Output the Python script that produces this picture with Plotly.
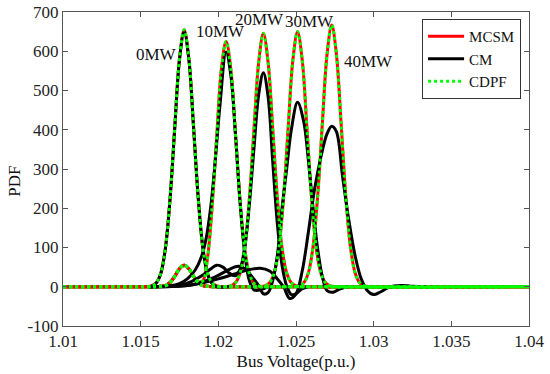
import plotly.graph_objects as go

# ---------------- data ----------------
x_tick_vals = [1.01, 1.015, 1.02, 1.025, 1.03, 1.035, 1.04]
x_tick_text = ["1.01", "1.015", "1.02", "1.025", "1.03", "1.035", "1.04"]
y_tick_vals = [-100, 0, 100, 200, 300, 400, 500, 600, 700]
y_tick_text = ["-100", "0", "100", "200", "300", "400", "500", "600", "700"]

cases = ["0MW", "10MW", "20MW", "30MW", "40MW"]

# MCSM (Monte Carlo) PDFs
mcsm_0_x = [1.0100, 1.0150, 1.0154, 1.0157, 1.0160, 1.0163, 1.0166, 1.0169, 1.0172, 1.0175, 1.0178,
            1.0181, 1.0184, 1.0187, 1.0190, 1.0193, 1.0196, 1.0199, 1.0202, 1.0206, 1.0400]
mcsm_0_y = [0, 0, 0.3, 2, 10, 35, 101, 229, 410, 582, 655,
            582, 410, 229, 101, 35, 10, 2, 0.3, 0, 0]

mcsm_10_x = [1.0100, 1.0155, 1.0160, 1.0163, 1.0166, 1.0169, 1.0172, 1.0175, 1.0178, 1.0181, 1.0184,
             1.0187, 1.0190, 1.0193, 1.0196, 1.0199, 1.0202, 1.0205, 1.0208, 1.0211, 1.0214,
             1.0217, 1.0220, 1.0223, 1.0226, 1.0229, 1.0233, 1.0400]
mcsm_10_y = [0, 0, 0.2, 1, 3, 11, 27, 46, 55, 46, 27,
             13, 15, 72, 205, 385, 556, 625, 556, 391, 218,
             96, 33, 9, 2, 0.3, 0, 0]

mcsm_20_x = [1.0100, 1.0155, 1.0160, 1.0163, 1.0166, 1.0169, 1.0172, 1.0175, 1.0178, 1.0181, 1.0184,
             1.0187, 1.0190, 1.0193, 1.0196, 1.0200, 1.0205, 1.0208, 1.0211, 1.0214, 1.0217,
             1.0220, 1.0223, 1.0226, 1.0229, 1.0232, 1.0235, 1.0238, 1.0241, 1.0244, 1.0247,
             1.0250, 1.0254, 1.0400]
mcsm_20_y = [0, 0, 0.2, 1, 3, 11, 27, 46, 55, 46, 27,
             11, 3, 1, 0.2, 0, 0.3, 2, 10, 35, 99,
             225, 404, 573, 645, 573, 404, 225, 99, 35, 10,
             2, 0.3, 0]

mcsm_30_x = [1.0100, 1.0155, 1.0160, 1.0163, 1.0166, 1.0169, 1.0172, 1.0175, 1.0178, 1.0181, 1.0184,
             1.0187, 1.0190, 1.0193, 1.0196, 1.0200, 1.0226, 1.0230, 1.0233, 1.0236, 1.0239,
             1.0242, 1.0245, 1.0248, 1.0251, 1.0254, 1.0257, 1.0260, 1.0263, 1.0266, 1.0269,
             1.0272, 1.0276, 1.0400]
mcsm_30_y = [0, 0, 0.2, 1, 3, 11, 27, 46, 55, 46, 27,
             11, 3, 1, 0.2, 0, 0.3, 2, 10, 35, 100,
             227, 407, 578, 650, 578, 407, 227, 100, 35, 10,
             2, 0.3, 0]

mcsm_40_x = [1.0100, 1.0155, 1.0160, 1.0163, 1.0166, 1.0169, 1.0172, 1.0175, 1.0178, 1.0181, 1.0184,
             1.0187, 1.0190, 1.0193, 1.0196, 1.0200, 1.0248, 1.0252, 1.0255, 1.0258, 1.0261,
             1.0264, 1.0267, 1.0270, 1.0273, 1.0276, 1.0279, 1.0282, 1.0285, 1.0288, 1.0291,
             1.0294, 1.0298, 1.0400]
mcsm_40_y = [0, 0, 0.2, 1, 3, 11, 27, 46, 55, 46, 27,
             11, 3, 1, 0.2, 0, 0.3, 2, 10, 36, 103,
             233, 418, 593, 667, 593, 418, 233, 103, 36, 10,
             2, 0.3, 0]

# CDPF PDFs coincide with MCSM in the picture
cdpf_0_x, cdpf_0_y = mcsm_0_x, mcsm_0_y
cdpf_10_x, cdpf_10_y = mcsm_10_x, mcsm_10_y
cdpf_20_x, cdpf_20_y = mcsm_20_x, mcsm_20_y
cdpf_30_x, cdpf_30_y = mcsm_30_x, mcsm_30_y
cdpf_40_x, cdpf_40_y = mcsm_40_x, mcsm_40_y

# CM (cumulant method) PDFs
cm_0_x = [1.0155, 1.0157, 1.0160, 1.0163, 1.0166, 1.0169, 1.0172, 1.0175, 1.0178, 1.0181, 1.0184,
          1.0187, 1.0190, 1.0193, 1.0196, 1.0199, 1.0203, 1.0208]
cm_0_y = [0, 1.5, 9, 34, 100, 228, 408, 578, 650, 580, 410,
          230, 100, 33, 8, 0, -1, 0]

cm_10_x = [1.0155, 1.0162, 1.0168, 1.0175, 1.0180, 1.0185, 1.0189, 1.0192, 1.0195, 1.0198, 1.0201,
           1.0205, 1.0208, 1.0211, 1.0214, 1.0217, 1.0220, 1.0223, 1.0227, 1.0232]
cm_10_y = [0, 0.5, 2, 8, 20, 42, 75, 120, 200, 320, 460,
           598, 540, 390, 215, 85, 15, -8, -8, 0]

cm_20_x = [1.0155, 1.0165, 1.0175, 1.0183, 1.0190, 1.0195, 1.0199, 1.0203, 1.0207, 1.0211, 1.0214,
           1.0217, 1.0220, 1.0223, 1.0226, 1.0229, 1.0232, 1.0235, 1.0238, 1.0241, 1.0244,
           1.0247, 1.0250, 1.0254, 1.0258]
cm_20_y = [0, 0.5, 4, 14, 30, 45, 55, 50, 35, 28, 45,
           100, 210, 355, 490, 545, 485, 320, 160, 55, 2,
           -20, -18, -5, 0]

cm_30_x = [1.0155, 1.0170, 1.0180, 1.0190, 1.0198, 1.0205, 1.0213, 1.0218, 1.0222, 1.0226, 1.0229,
           1.0232, 1.0235, 1.0238, 1.0241, 1.0244, 1.0247, 1.0251, 1.0255, 1.0258, 1.0261,
           1.0264, 1.0267, 1.0270, 1.0274, 1.0278, 1.0283]
cm_30_y = [0, 0.5, 3, 12, 25, 40, 52, 43, 24, 3, -18,
           -15, 15, 80, 200, 300, 400, 470, 420, 320, 200,
           95, 25, -10, -14, -6, 0]

cm_40_x = [1.0155, 1.0170, 1.0180, 1.0190, 1.0200, 1.0210, 1.0218, 1.0227, 1.0233, 1.0238, 1.0242,
           1.0246, 1.0250, 1.0254, 1.0258, 1.0262, 1.0266, 1.0270, 1.0273, 1.0276, 1.0280,
           1.0284, 1.0288, 1.0292, 1.0296, 1.0300, 1.0304, 1.0309, 1.0313, 1.0318, 1.0323,
           1.0330, 1.0335]
cm_40_y = [0, 0.5, 3, 10, 20, 32, 42, 47, 40, 20, 0,
           -30, -18, 40, 140, 250, 330, 390, 409, 395, 280,
           170, 80, 20, -10, -20, -14, -3, 2, 3, 2,
           0, 0]

label_x = [1.01605, 1.02011, 1.02268, 1.0259, 1.02964]
label_y = [591, 650, 680, 675, 573]

# ---------------- figure ----------------
FONT = "Liberation Serif, DejaVu Serif, serif"
RED, BLACK, GREEN = "#ff0000", "#000000", "#00ff00"

mcsm = [(mcsm_0_x, mcsm_0_y), (mcsm_10_x, mcsm_10_y), (mcsm_20_x, mcsm_20_y),
        (mcsm_30_x, mcsm_30_y), (mcsm_40_x, mcsm_40_y)]
cm = [(cm_0_x, cm_0_y), (cm_10_x, cm_10_y), (cm_20_x, cm_20_y),
      (cm_30_x, cm_30_y), (cm_40_x, cm_40_y)]
cdpf = [(cdpf_0_x, cdpf_0_y), (cdpf_10_x, cdpf_10_y), (cdpf_20_x, cdpf_20_y),
        (cdpf_30_x, cdpf_30_y), (cdpf_40_x, cdpf_40_y)]

fig = go.Figure()
for name, group, color, dash in [("MCSM", mcsm, RED, "solid"),
                                 ("CM", cm, BLACK, "solid"),
                                 ("CDPF", cdpf, GREEN, "dot")]:
    for i, (xs, ys) in enumerate(group):
        fig.add_trace(go.Scatter(
            x=xs, y=ys, mode="lines", name=name, legendgroup=name,
            showlegend=(i == 0),
            line=dict(color=color, width=3, dash=dash, shape="spline", smoothing=1.0),
            hoverinfo="skip"))

for txt, lx, ly in zip(cases, label_x, label_y):
    fig.add_annotation(x=lx, y=ly, text=txt, showarrow=False, xanchor="center",
                       font=dict(family=FONT, size=17, color="#111"))

fig.add_annotation(xref="paper", yref="y", x=-0.105, y=268, text="PDF", showarrow=False,
                   xanchor="center", yanchor="middle",
                   textangle=-90, font=dict(family=FONT, size=17, color="#111"))

axis_common = dict(showline=True, linecolor="#555", linewidth=1, mirror="ticks",
                   ticks="inside", ticklen=5, tickcolor="#555", showgrid=False,
                   zeroline=False, tickfont=dict(family=FONT, size=17, color="#222"))

fig.update_xaxes(range=[1.01, 1.04], tickvals=x_tick_vals, ticktext=x_tick_text,
                 title=dict(text="Bus Voltage(p.u.)", standoff=4,
                            font=dict(family=FONT, size=17, color="#111")),
                 **axis_common)
fig.update_yaxes(range=[-100, 700], tickvals=y_tick_vals, ticktext=y_tick_text,
                 **axis_common)

fig.update_layout(
    width=550, height=374,
    margin=dict(l=63, r=21, t=12, b=48, autoexpand=False),
    plot_bgcolor="white", paper_bgcolor="white",
    font=dict(family=FONT),
    showlegend=True,
    legend=dict(x=0.983, y=0.978, xanchor="right", yanchor="top",
                bgcolor="white", bordercolor="#333", borderwidth=1,
                font=dict(family=FONT, size=15, color="#111"),
                tracegroupgap=0, itemwidth=36),
)

fig.write_html("out.html", config={"displayModeBar": False},
               post_script="document.body.style.margin='0';document.body.style.padding='0';")
